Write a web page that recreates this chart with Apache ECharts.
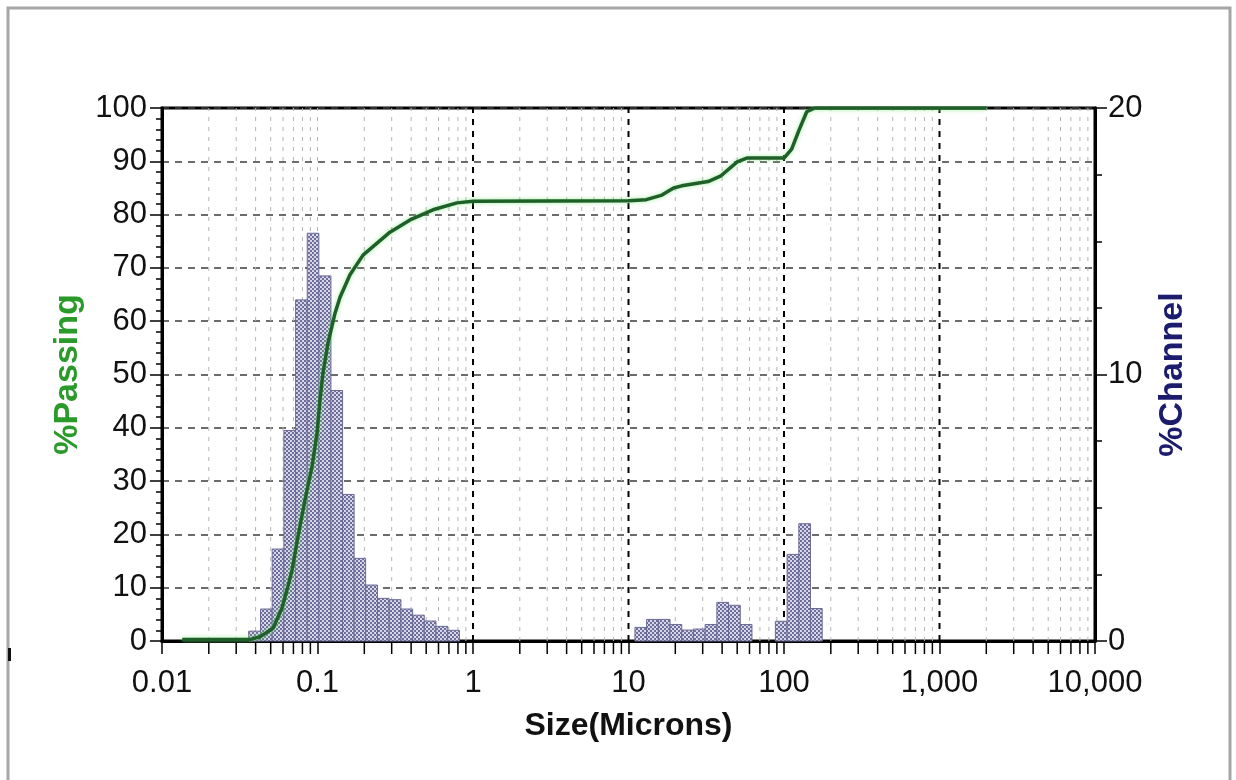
<!DOCTYPE html>
<html>
<head>
<meta charset="utf-8">
<script src="https://cdn.jsdelivr.net/npm/echarts@6/dist/echarts.min.js"></script>
<style>
  html, body { margin: 0; padding: 0; background: #ffffff; }
  #chart { width: 1236px; height: 780px; }
</style>
</head>
<body>
<div id="chart"></div>
<script>
// Particle size channels (microns): lower edge, upper edge, % in channel
const channelLo = [0.0361, 0.0430, 0.0511, 0.0608, 0.0723, 0.0859, 0.102, 0.122, 0.145, 0.172,
                   0.204, 0.243, 0.289, 0.344, 0.409, 0.486, 0.578, 0.688,
                   11.0, 13.08, 15.56, 18.5, 22.0, 26.16, 31.11, 37.0, 44.0, 52.33,
                   88.0, 104.7, 124.5, 148.0];
const channelHi = [0.0430, 0.0511, 0.0608, 0.0723, 0.0859, 0.102, 0.122, 0.145, 0.172, 0.204,
                   0.243, 0.289, 0.344, 0.409, 0.486, 0.578, 0.688, 0.818,
                   13.08, 15.56, 18.5, 22.0, 26.16, 31.11, 37.0, 44.0, 52.33, 62.23,
                   104.7, 124.5, 148.0, 176.0];
const channelPct = [0.37, 1.2, 3.45, 7.9, 12.8, 15.3, 13.7, 9.4, 5.5, 3.1,
                    2.1, 1.6, 1.55, 1.2, 0.97, 0.75, 0.55, 0.4,
                    0.51, 0.81, 0.81, 0.62, 0.41, 0.45, 0.62, 1.45, 1.34, 0.62,
                    0.74, 3.25, 4.4, 1.22];

// Cumulative % passing curve
const passingSize = [0.0135, 0.037, 0.0427, 0.0518, 0.0591, 0.0637, 0.0686, 0.0748, 0.0831, 0.0922,
                     0.0993, 0.1037, 0.1085, 0.1168, 0.1296, 0.1396, 0.1618, 0.1962, 0.2924, 0.3935,
                     0.553, 0.789, 1.0, 10.0, 13.0, 16.2, 19.5, 22.0, 32.5, 39.0,
                     50.0, 57.6, 100.0, 112.0, 124.0, 140.0, 158.0, 2000.0];
const passingPct = [0.3, 0.3, 0.8, 2.4, 6.2, 9.6, 13.3, 19.5, 26.5, 32.7,
                    39.0, 45.2, 50.3, 55.9, 61.5, 64.5, 68.7, 72.4, 76.7, 79.0,
                    80.9, 82.2, 82.5, 82.6, 82.8, 83.6, 85.0, 85.4, 86.2, 87.2,
                    89.9, 90.6, 90.6, 92.3, 95.6, 99.3, 100.0, 100.0];

// Tick labels for the size axis, one per decade from 0.01 to 10,000
const xTickLabels = ['0.01', '0.1', '1', '10', '100', '1,000', '10,000'];

const tickFont = "'Liberation Sans', Arial, sans-serif";
const titleFont = "'Liberation Sans', Arial, sans-serif";

// Grid positions on the size axis: light lines at 2..9 of each decade (and at 0.1),
// heavy dashed lines at 1, 10, 100 and 1000
const gridSizes = [];
for (let e = -2; e <= 3; e++) {
  for (let m = 1; m <= 9; m++) {
    if (m === 1 && e === -2) continue;
    const heavy = (m === 1 && e >= 0);
    gridSizes.push([m * Math.pow(10, e), heavy ? 1 : 0, m === 1 ? 1 : 0]);
  }
}

// Checkered fill for the histogram bars
function checkerPattern() {
  const c = document.createElement('canvas');
  c.width = 4; c.height = 4;
  const g = c.getContext('2d');
  g.fillStyle = '#d6d6e8'; g.fillRect(0, 0, 4, 4);
  g.fillStyle = '#6e6e9a';
  g.fillRect(0, 0, 2, 2); g.fillRect(2, 2, 2, 2);
  return c;
}
const barFill = { image: checkerPattern(), repeat: 'repeat' };

const chart = echarts.init(document.getElementById('chart'), null, { renderer: 'canvas' });

const option = {
  backgroundColor: '#ffffff',
  animation: false,
  grid: {
    left: 162, right: 141, top: 108, bottom: 139,
    show: true, borderColor: '#000000', borderWidth: 3, backgroundColor: '#ffffff'
  },
  graphic: [
    { type: 'polyline', silent: true, z: 100,
      shape: { points: [[8, 780], [8, 8], [1230, 8], [1230, 780]] },
      style: { stroke: '#a6a6a6', lineWidth: 3, fill: null } },
    { type: 'rect', silent: true, z: 100,
      shape: { x: 8, y: 648, width: 3, height: 13 },
      style: { fill: '#111111' } }
  ],
  xAxis: {
    type: 'log', logBase: 10, min: 0.01, max: 10000,
    name: 'Size(Microns)', nameLocation: 'middle', nameGap: 69,
    nameTextStyle: { fontFamily: titleFont, fontWeight: 'bold', fontSize: 32, color: '#111111' },
    axisLine: { show: true, onZero: false, lineStyle: { color: '#000000', width: 3 } },
    axisTick: { show: true, length: 13, lineStyle: { color: '#000000', width: 1.5 } },
    axisLabel: {
      margin: 27, fontFamily: tickFont, fontSize: 31, color: '#111111',
      formatter: function (v) {
        const i = Math.round(Math.log10(v)) + 2;
        return xTickLabels[i] || '';
      }
    },
    splitLine: { show: false },
    minorTick: { show: false }
  },
  yAxis: [
    {
      type: 'value', min: 0, max: 100, interval: 10, position: 'left',
      name: '%Passing', nameLocation: 'middle', nameGap: 75, nameRotate: 90,
      nameTextStyle: { fontFamily: titleFont, fontWeight: 'bold', fontSize: 34, color: '#2a9a2a' },
      axisLine: { show: true, lineStyle: { color: '#000000', width: 3 } },
      axisTick: { show: true, length: 12, lineStyle: { color: '#000000', width: 1.5 } },
      minorTick: { show: true, splitNumber: 5, length: 6, lineStyle: { color: '#000000', width: 1.5 } },
      axisLabel: { margin: 15, fontFamily: tickFont, fontSize: 31, color: '#111111' },
      splitLine: { show: true, lineStyle: { color: '#3c3c3c', width: 1.5, type: [7, 6] } },
      minorSplitLine: { show: false }
    },
    {
      type: 'value', min: 0, max: 20, interval: 10, position: 'right',
      name: '%Channel', nameLocation: 'middle', nameGap: 61, nameRotate: 90,
      nameTextStyle: { fontFamily: titleFont, fontWeight: 'bold', fontSize: 34, color: '#1c1c6e' },
      axisLine: { show: true, lineStyle: { color: '#000000', width: 3 } },
      axisTick: { show: true, length: 12, lineStyle: { color: '#000000', width: 1.5 } },
      minorTick: { show: true, splitNumber: 4, length: 7, lineStyle: { color: '#000000', width: 1.5 } },
      axisLabel: { margin: 13, fontFamily: tickFont, fontSize: 31, color: '#111111' },
      splitLine: { show: false }
    }
  ],
  series: [
    {
      // vertical grid lines and the small ticks between decades
      type: 'custom', name: 'grid', xAxisIndex: 0, yAxisIndex: 0, z: 1, silent: true, clip: false,
      data: gridSizes,
      encode: { x: 0 },
      renderItem: function (params, api) {
        const v = api.value(0);
        const heavy = api.value(1) === 1;
        const decade = api.value(2) === 1;
        const bot = api.coord([v, 0]);
        const top = api.coord([v, 100]);
        const children = [
          { type: 'line', shape: { x1: bot[0], y1: bot[1], x2: top[0], y2: top[1] },
            style: heavy ? { stroke: '#000000', lineWidth: 2, lineDash: [6, 6] }
                         : { stroke: '#b4b4b4', lineWidth: 1, lineDash: [4, 6] } }
        ];
        if (!decade) {
          children.push({ type: 'line', shape: { x1: bot[0], y1: bot[1], x2: bot[0], y2: bot[1] + 13 },
            style: { stroke: '#000000', lineWidth: 1.5 } });
        }
        return { type: 'group', children: children };
      }
    },
    {
      // %Channel histogram
      type: 'custom', name: '%Channel', xAxisIndex: 0, yAxisIndex: 1, z: 3, silent: true,
      data: channelLo.map(function (lo, i) { return [lo, channelHi[i], channelPct[i]]; }),
      encode: { x: [0, 1], y: 2 },
      renderItem: function (params, api) {
        const p0 = api.coord([api.value(0), 0]);
        const p1 = api.coord([api.value(1), api.value(2)]);
        return {
          type: 'rect',
          shape: { x: p0[0], y: p1[1], width: p1[0] - p0[0], height: p0[1] - p1[1] },
          style: { fill: barFill, stroke: '#6a6a96', lineWidth: 1 }
        };
      }
    },
    {
      // %Passing cumulative curve
      type: 'line', name: '%Passing', xAxisIndex: 0, yAxisIndex: 0, z: 5,
      data: passingSize.map(function (s, i) { return [s, passingPct[i]]; }),
      showSymbol: false, symbol: 'none', smooth: false,
      lineStyle: { color: '#1f5f28', width: 3.5, shadowColor: 'rgba(120,230,120,0.7)', shadowBlur: 4 }
    }
  ]
};

chart.setOption(option);
</script>
</body>
</html>
